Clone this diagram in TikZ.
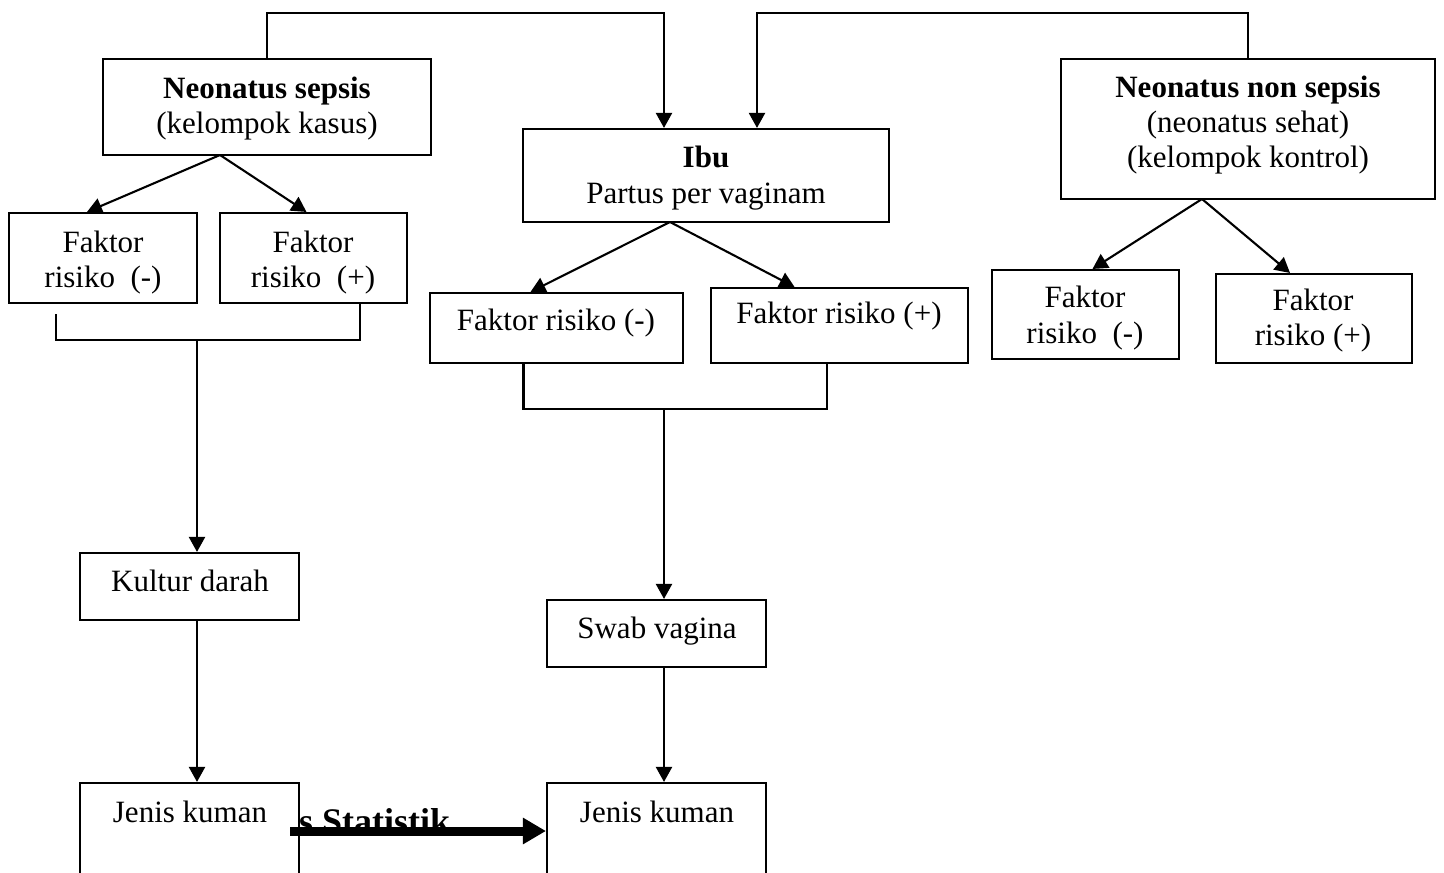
\documentclass[tikz,border=0pt]{standalone}
\usepackage{fontspec}
\setmainfont{Liberation Serif}
\usetikzlibrary{arrows.meta,calc}

\tikzset{
  box/.style={draw=black, line width=2.1pt, rectangle, inner sep=0pt, fill=white},
  lbl/.style={inner sep=0pt, anchor=base, font=\fontsize{31}{35}\selectfont},
  lblb/.style={lbl, font=\fontsize{31}{35}\selectfont\bfseries},
  conn/.style={draw=black, line width=2.1pt},
  arr/.style={conn, -{Triangle[length=15pt,width=16pt]}},
  bigarr/.style={draw=black, line width=9pt, -{Triangle[length=23pt,width=25pt]}},
}

\begin{document}
\begin{tikzpicture}[x=1pt,y=-1pt]
\useasboundingbox (0,0) rectangle (1444,873);
\clip (0,0) rectangle (1444,873);

% top-level groups
\node[box, minimum width=328pt, minimum height=96pt] (ns) at (267,107) {};
\node[lblb] (nsA) at (267,98) {Neonatus sepsis};
\node[lbl]  (nsB) at (267,133) {(kelompok kasus)};

\node[box, minimum width=366pt, minimum height=93pt] (ibu) at (706,175.5) {};
\node[lblb] (ibuA) at (706,167) {Ibu};
\node[lbl]  (ibuB) at (706,203) {Partus per vaginam};

\node[box, minimum width=374pt, minimum height=140pt] (nn) at (1248,129) {};
\node[lblb] (nnA) at (1248,97) {Neonatus non sepsis};
\node[lbl]  (nnB) at (1248,132) {(neonatus sehat)};
\node[lbl]  (nnC) at (1248,167) {(kelompok kontrol)};

% risk factor boxes
\node[box, minimum width=188pt, minimum height=90pt] (f1) at (103,258) {};
\node[lbl] (f1A) at (103,252) {Faktor};
\node[lbl] (f1B) at (103,287) {risiko\ \ (-)};

\node[box, minimum width=187pt, minimum height=90pt] (f2) at (313.5,258) {};
\node[lbl] (f2A) at (313,252) {Faktor};
\node[lbl] (f2B) at (313,287) {risiko\ \ (+)};

\node[box, minimum width=253pt, minimum height=70pt] (f3) at (556.5,328) {};
\node[lbl] (f3A) at (556,330) {Faktor risiko (-)};

\node[box, minimum width=257pt, minimum height=75pt] (f4) at (839.5,325.5) {};
\node[lbl] (f4A) at (839,323) {Faktor risiko (+)};

\node[box, minimum width=187pt, minimum height=89pt] (f5) at (1085.5,314.5) {};
\node[lbl] (f5A) at (1085,307) {Faktor};
\node[lbl] (f5B) at (1085,343) {risiko\ \ (-)};

\node[box, minimum width=196pt, minimum height=89pt] (f6) at (1314,318.5) {};
\node[lbl] (f6A) at (1313,310) {Faktor};
\node[lbl] (f6B) at (1313,345) {risiko (+)};

% examination boxes
\node[box, minimum width=219pt, minimum height=67pt] (kd) at (189.5,586.5) {};
\node[lbl] (kdA) at (190,591) {Kultur darah};

\node[box, minimum width=219pt, minimum height=67pt] (sv) at (656.5,633.5) {};
\node[lbl] (svA) at (657,638) {Swab vagina};

\node[box, minimum width=219pt, minimum height=120pt] (jk1) at (189.5,843) {};
\node[lbl] (jk1A) at (190,822) {Jenis kuman};

\node[box, minimum width=219pt, minimum height=120pt] (jk2) at (656.5,843) {};
\node[lbl] (jk2A) at (657,822) {Jenis kuman};

% links from the two neonate groups to the mother
\draw[arr] (ns.north) -- (267,13) -| ([xshift=-42pt]ibu.north);
\draw[arr] (nn.north) -- (1248,13) -| ([xshift=51pt]ibu.north);

% split into risk factor groups
\coordinate (nsOut) at (220,155);
\draw[arr] (nsOut) -- ([xshift=-16pt]f1.north);
\draw[arr] (nsOut) -- ([xshift=-7pt]f2.north);

\coordinate (ibuOut) at (670,222);
\draw[arr] (ibuOut) -- ([xshift=-26pt]f3.north);
\draw[arr] (ibuOut) -- ([xshift=-45pt]f4.north);

\coordinate (nnOut) at (1202,199);
\draw[arr] (nnOut) -- ([xshift=7pt]f5.north);
\draw[arr] (nnOut) -- ([xshift=-24pt]f6.north);

% brackets joining the risk factor groups
\coordinate (b1) at (197,340);
\draw[conn] (56,314) |- (b1) -| ([xshift=46.5pt]f2.south);
\draw[arr] (b1) -- (kd.north -| b1);

\coordinate (b2) at (664,409);
\draw[conn] ([xshift=-33pt]f3.south) |- (b2) -| ([xshift=-12.5pt]f4.south);
\draw[arr] (b2) -- (sv.north -| b2);

% down to the germ types
\draw[arr] (kd.south -| b1) -- (jk1.north -| b1);
\draw[arr] (sv.south -| b2) -- (jk2.north -| b2);

% statistical comparison
\node[inner sep=0pt, anchor=base west, font=\fontsize{36}{40}\selectfont\bfseries] (stat) at (299,833) {s Statistik};
\coordinate (sStart) at (290,831);
\draw[bigarr] (sStart) -- (jk2.west |- sStart);
\end{tikzpicture}
\end{document}
